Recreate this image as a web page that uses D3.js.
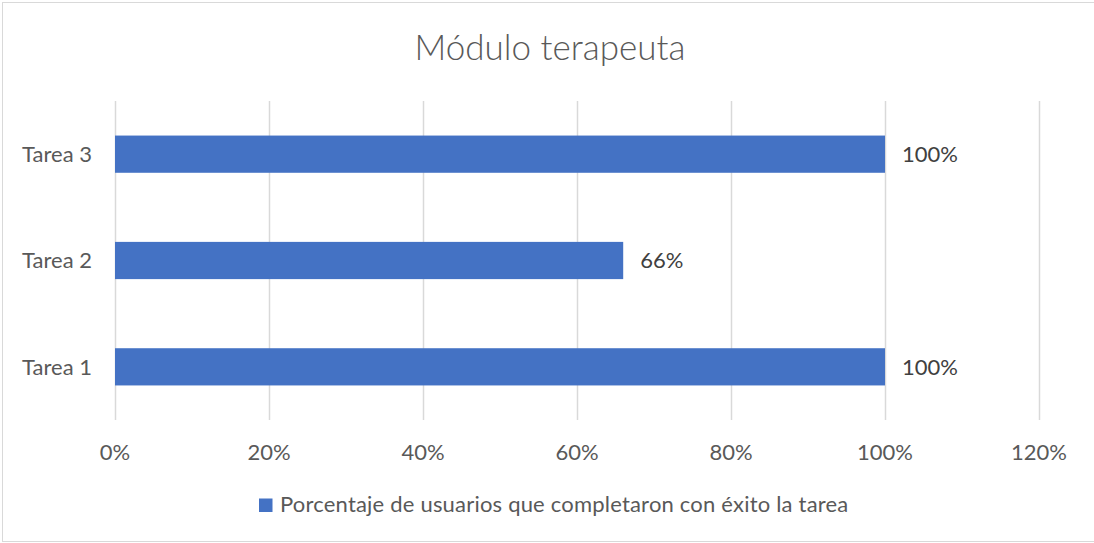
<!DOCTYPE html>
<html>
<head>
<meta charset="utf-8">
<script src="https://cdn.jsdelivr.net/npm/d3@7"></script>
<style>
  body { margin: 0; background: #fff; }
  svg { display: block; font-family: Lato, "Open Sans", sans-serif; }
</style>
</head>
<body>
<svg width="1094" height="543"></svg>
<script>
// data
var categories = ["Tarea 1", "Tarea 2", "Tarea 3"];
var values = [1.00, 0.66, 1.00];
var tickValues = [0, 0.2, 0.4, 0.6, 0.8, 1.0, 1.2];
var title = "Módulo terapeuta";
var seriesName = "Porcentaje de usuarios que completaron con éxito la tarea";

var svg = d3.select("svg");
var W = 1094, H = 543;
var plot = {left: 115, right: 1039, top: 101, bottom: 420};
var fs = "22px";

// chart border (right edge is cut off in the original)
svg.append("rect")
    .attr("x", 2.5).attr("y", 2.5)
    .attr("width", W + 10).attr("height", H - 4)
    .attr("fill", "#fff")
    .attr("stroke", "#d9d9d9");

var x = d3.scaleLinear().domain([0, 1.2]).range([plot.left, plot.right]);
var y = d3.scaleBand()
    .domain(categories.slice().reverse())
    .range([plot.top, plot.bottom])
    .paddingInner(0.65)
    .paddingOuter(0.325);

// gridlines
svg.append("g")
    .selectAll("line")
    .data(tickValues)
    .enter().append("line")
    .attr("x1", function(d) { return Math.round(x(d)) + 0.5; })
    .attr("x2", function(d) { return Math.round(x(d)) + 0.5; })
    .attr("y1", plot.top).attr("y2", plot.bottom)
    .attr("stroke", "#d9d9d9")
    .attr("stroke-width", 1.5);

// x tick labels
svg.append("g")
    .selectAll("text")
    .data(tickValues)
    .enter().append("text")
    .attr("x", function(d) { return x(d); })
    .attr("y", 460)
    .attr("text-anchor", "middle")
    .attr("fill", "#595959")
    .style("font-size", fs)
    .text(function(d) { return Math.round(d * 100) + "%"; });

// bars
svg.append("g")
    .selectAll("rect")
    .data(categories)
    .enter().append("rect")
    .attr("x", x(0))
    .attr("y", function(d) { return y(d); })
    .attr("width", function(d, i) { return x(values[i]) - x(0); })
    .attr("height", y.bandwidth())
    .attr("fill", "#4472c4");

// category labels
svg.append("g")
    .selectAll("text")
    .data(categories)
    .enter().append("text")
    .attr("x", 92)
    .attr("y", function(d) { return y(d) + y.bandwidth() / 2; })
    .attr("dy", "0.35em")
    .attr("text-anchor", "end")
    .attr("fill", "#595959")
    .style("font-size", fs)
    .text(function(d) { return d; });

// data labels
svg.append("g")
    .selectAll("text")
    .data(categories)
    .enter().append("text")
    .attr("x", function(d, i) { return x(values[i]) + 17; })
    .attr("y", function(d) { return y(d) + y.bandwidth() / 2; })
    .attr("dy", "0.35em")
    .attr("fill", "#404040")
    .style("font-size", fs)
    .text(function(d, i) { return Math.round(values[i] * 100) + "%"; });

// title
svg.append("text")
    .attr("x", W / 2 + 3)
    .attr("y", 60)
    .attr("text-anchor", "middle")
    .attr("fill", "#595959")
    .style("font-size", "35px")
    .style("font-weight", 300)
    .text(title);

// legend
var leg = svg.append("g");
leg.append("rect")
    .attr("x", 259).attr("y", 498.5)
    .attr("width", 13.5).attr("height", 13.5)
    .attr("fill", "#4472c4");
leg.append("text")
    .attr("x", 280).attr("y", 512)
    .attr("fill", "#595959")
    .style("font-size", fs)
    .style("letter-spacing", "0.2px")
    .text(seriesName);
</script>
</body>
</html>
